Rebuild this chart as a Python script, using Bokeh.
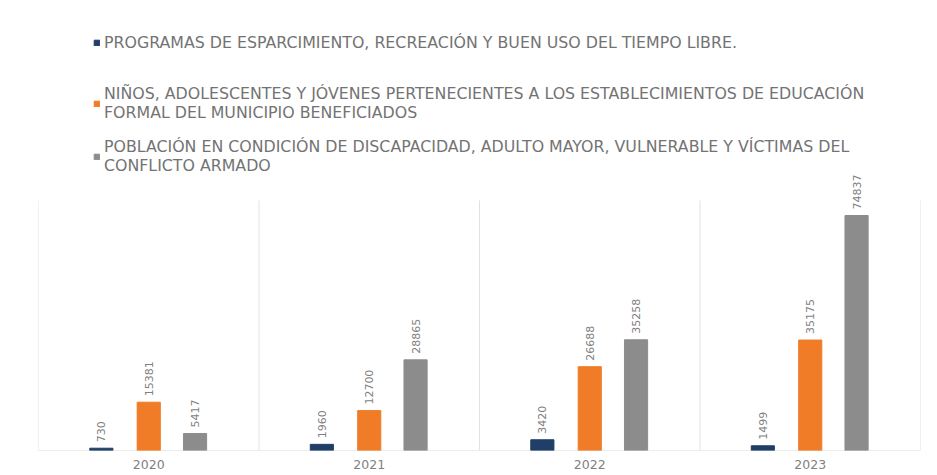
import numpy as np
from bokeh.plotting import figure
from bokeh.models import (ColumnDataSource, Range1d, LabelSet, Legend, LegendItem,
                          FixedTicker)
from bokeh.core.properties import value
from bokeh.embed import file_html
from bokeh.resources import INLINE

# ---- data ----
years = ["2020", "2021", "2022", "2023"]
programas = [730, 1960, 3420, 1499]
ninos = [15381, 12700, 26688, 35175]
poblacion = [5417, 28865, 35258, 74837]
series_names = [
    "PROGRAMAS DE ESPARCIMIENTO, RECREACIÓN Y BUEN USO DEL TIEMPO LIBRE.",
    "NIÑOS, ADOLESCENTES Y JÓVENES PERTENECIENTES A LOS ESTABLECIMIENTOS DE EDUCACIÓN\nFORMAL DEL MUNICIPIO BENEFICIADOS",
    "POBLACIÓN EN CONDICIÓN DE DISCAPACIDAD, ADULTO MAYOR, VULNERABLE Y VÍCTIMAS DEL\nCONFLICTO ARMADO",
]
colors = ["#1F3F66", "#F07C28", "#8C8C8C"]
text_color = "#737373"
FONT = "DejaVu Sans"

# ---- layout ----
FRAME_W, FRAME_H = 882, 442
y_end = max(poblacion) * FRAME_H / 235.0
sep_top = y_end * 250.0 / FRAME_H

p = figure(frame_width=FRAME_W, frame_height=FRAME_H, output_backend="svg",
           toolbar_location=None,
           x_range=Range1d(0, len(years)), y_range=Range1d(0, y_end),
           min_border_left=38, min_border_right=17,
           min_border_top=8, min_border_bottom=0)
p.outline_line_color = None
p.background_fill_color = "white"
p.border_fill_color = "white"
p.grid.visible = False
p.yaxis.visible = False

centers = np.arange(len(years)) + 0.5
offsets = [-0.215, 0.0, 0.21]
bar_w = 0.105

# separators and baseline
seps = np.arange(len(years) + 1)
p.segment(x0=seps, y0=[0] * len(seps), x1=seps, y1=[sep_top] * len(seps),
          line_color="#E2E2E2", line_width=1)
p.segment(x0=[0], y0=[0], x1=[len(years)], y1=[0], line_color="#D9D9D9", line_width=1)

renderers = []
for vals, off, col in zip([programas, ninos, poblacion], offsets, colors):
    src = ColumnDataSource(dict(x=centers + off, top=vals, label=[str(v) for v in vals]))
    r = p.vbar(x="x", top="top", width=bar_w, source=src, fill_color=col, line_color=col)
    renderers.append(r)
    p.add_layout(LabelSet(x="x", y="top", text="label", source=src, angle=np.pi / 2,
                          y_offset=6, text_align="left", text_baseline="middle",
                          text_font_size=value("11px"), text_color=value("#7F7F7F"),
                          text_font=value(FONT)))

# x axis labels
p.xaxis.ticker = FixedTicker(ticks=list(centers))
p.xaxis.major_label_overrides = {float(c): y for c, y in zip(centers, years)}
p.xaxis.axis_line_color = None
p.xaxis.major_tick_line_color = None
p.xaxis.minor_tick_line_color = None
p.xaxis.major_tick_out = 0
p.xaxis.major_tick_in = 0
p.xaxis.major_label_standoff = 9
p.xaxis.major_label_text_font_size = "12.5px"
p.xaxis.major_label_text_color = "#7F7F7F"
p.xaxis.major_label_text_font = FONT

# legends (one per item for exact placement)
leg_locs = [(55, 398), (55, 328), (55, 275)]
for name, r, loc in zip(series_names, renderers, leg_locs):
    lg = Legend(items=[LegendItem(label=name, renderers=[r])], location=loc,
                padding=0, margin=0, border_line_alpha=0, background_fill_alpha=0,
                glyph_width=7, glyph_height=7, label_standoff=4,
                label_text_font_size="15.8px", label_text_color=text_color,
                label_text_font=FONT, label_text_line_height=1.45, label_height=18)
    p.add_layout(lg, "center")

open("out.html", "w").write(file_html(p, INLINE))
